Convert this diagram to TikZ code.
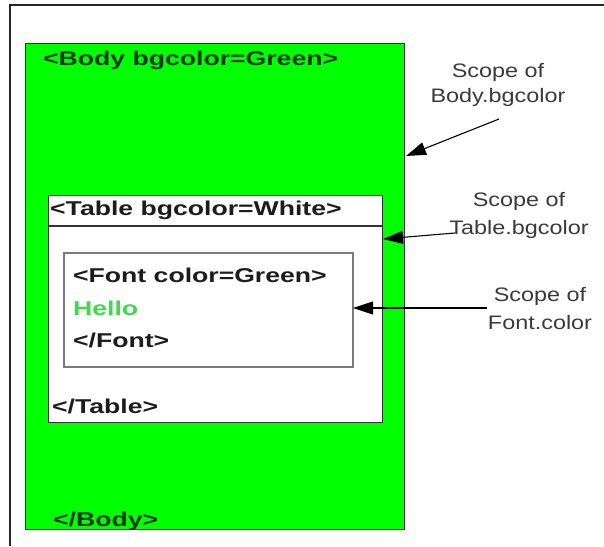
\documentclass[tikz,border=0pt]{standalone}
\usepackage{fontspec}
\setmainfont{Liberation Sans}[FakeStretch=1.33]
\newfontfamily\lblfont{Liberation Sans}[FakeStretch=1.2]
\usetikzlibrary{arrows.meta}
\definecolor{bodygreen}{HTML}{00FF00}
\definecolor{tagdark}{HTML}{0E3A10}
\definecolor{tagtext}{HTML}{1C1C1C}
\definecolor{hellogreen}{HTML}{3FD94A}
\definecolor{lbltext}{HTML}{3A3A3A}
\definecolor{fontframe}{HTML}{7A7A7A}
\tikzset{
  frameline/.style={line width=1.6pt, black!85},
  bodybox/.style={draw=black!80, line width=1.3pt, fill=bodygreen, inner sep=0pt, anchor=north west},
  tablebox/.style={draw=black!80, line width=1.3pt, fill=white, inner sep=0pt, anchor=north west},
  fontbox/.style={draw=fontframe, line width=1.7pt, fill=white, inner sep=0pt, anchor=north west},
  tag/.style={font=\bfseries\fontsize{20}{24}\selectfont, inner sep=0pt, anchor=base west},
  lbl/.style={font=\lblfont\fontsize{19.5}{26}\selectfont, text=lbltext, align=center, inner sep=0pt, anchor=base},
  pointer/.style={line width=1.1pt, black, -{Triangle[length=20pt,width=13pt]}}
}
\begin{document}
\begin{tikzpicture}[x=1pt,y=-1pt]
\useasboundingbox (0,0) rectangle (604,546);
\fill[white] (0,0) rectangle (604,546);

% outer page frame (top and left edges)
\coordinate (frameBL) at (10,546);
\coordinate (frameTL) at (10,5);
\coordinate (frameTR) at (604,5);
\draw[frameline] (frameBL) -- (frameTL) -- (frameTR);

% nested scopes
\node[bodybox, minimum width=379pt, minimum height=486pt] (body) at (25,43) {};
\node[tablebox, minimum width=334pt, minimum height=227pt] (table) at (48,195) {};
\coordinate (divL) at (48,226);
\coordinate (divR) at (382,226);
\draw[black!80, line width=1.3pt] (divL) -- (divR);
\node[fontbox, minimum width=289pt, minimum height=114pt] (font) at (63,252) {};

% tags
\node[tag, text=tagdark] (bodyopen) at (43,65) {<Body bgcolor=Green>};
\node[tag, text=tagtext] (tableopen) at (50,215) {<Table bgcolor=White>};
\node[tag, text=tagtext] (fontopen) at (73,282) {<Font color=Green>};
\node[tag, text=hellogreen] (hello) at (73,315) {Hello};
\node[tag, text=tagtext] (fontclose) at (73,347) {</Font>};
\node[tag, text=tagtext] (tableclose) at (52,413) {</Table>};
\node[tag, text=tagdark] (bodyclose) at (53,526) {</Body>};

% scope labels (anchored at the baseline of the second line)
\node[lbl, font=\lblfont\fontsize{19.5}{25}\selectfont] (bodylbl) at (498,102) {Scope of\\Body.bgcolor};
\node[lbl, font=\lblfont\fontsize{19.5}{27.5}\selectfont] (tablelbl) at (519,234) {Scope of\\Table.bgcolor};
\node[lbl, font=\lblfont\fontsize{19.5}{28}\selectfont] (fontlbl) at (540,329) {Scope of\\Font.color};

% pointers from labels to scope edges
\coordinate (bodyptr) at (499,119);
\coordinate (bodyend) at (406,156);
\coordinate (tableptr) at (455,233);
\coordinate (tableend) at (383,239);
\coordinate (fontptr) at (487,308);
\coordinate (fontend) at (353,308);
\draw[pointer] (bodyptr) -- (bodyend);
\draw[pointer] (tableptr) -- (tableend);
\draw[pointer] (fontptr) -- (fontend);
\end{tikzpicture}
\end{document}
